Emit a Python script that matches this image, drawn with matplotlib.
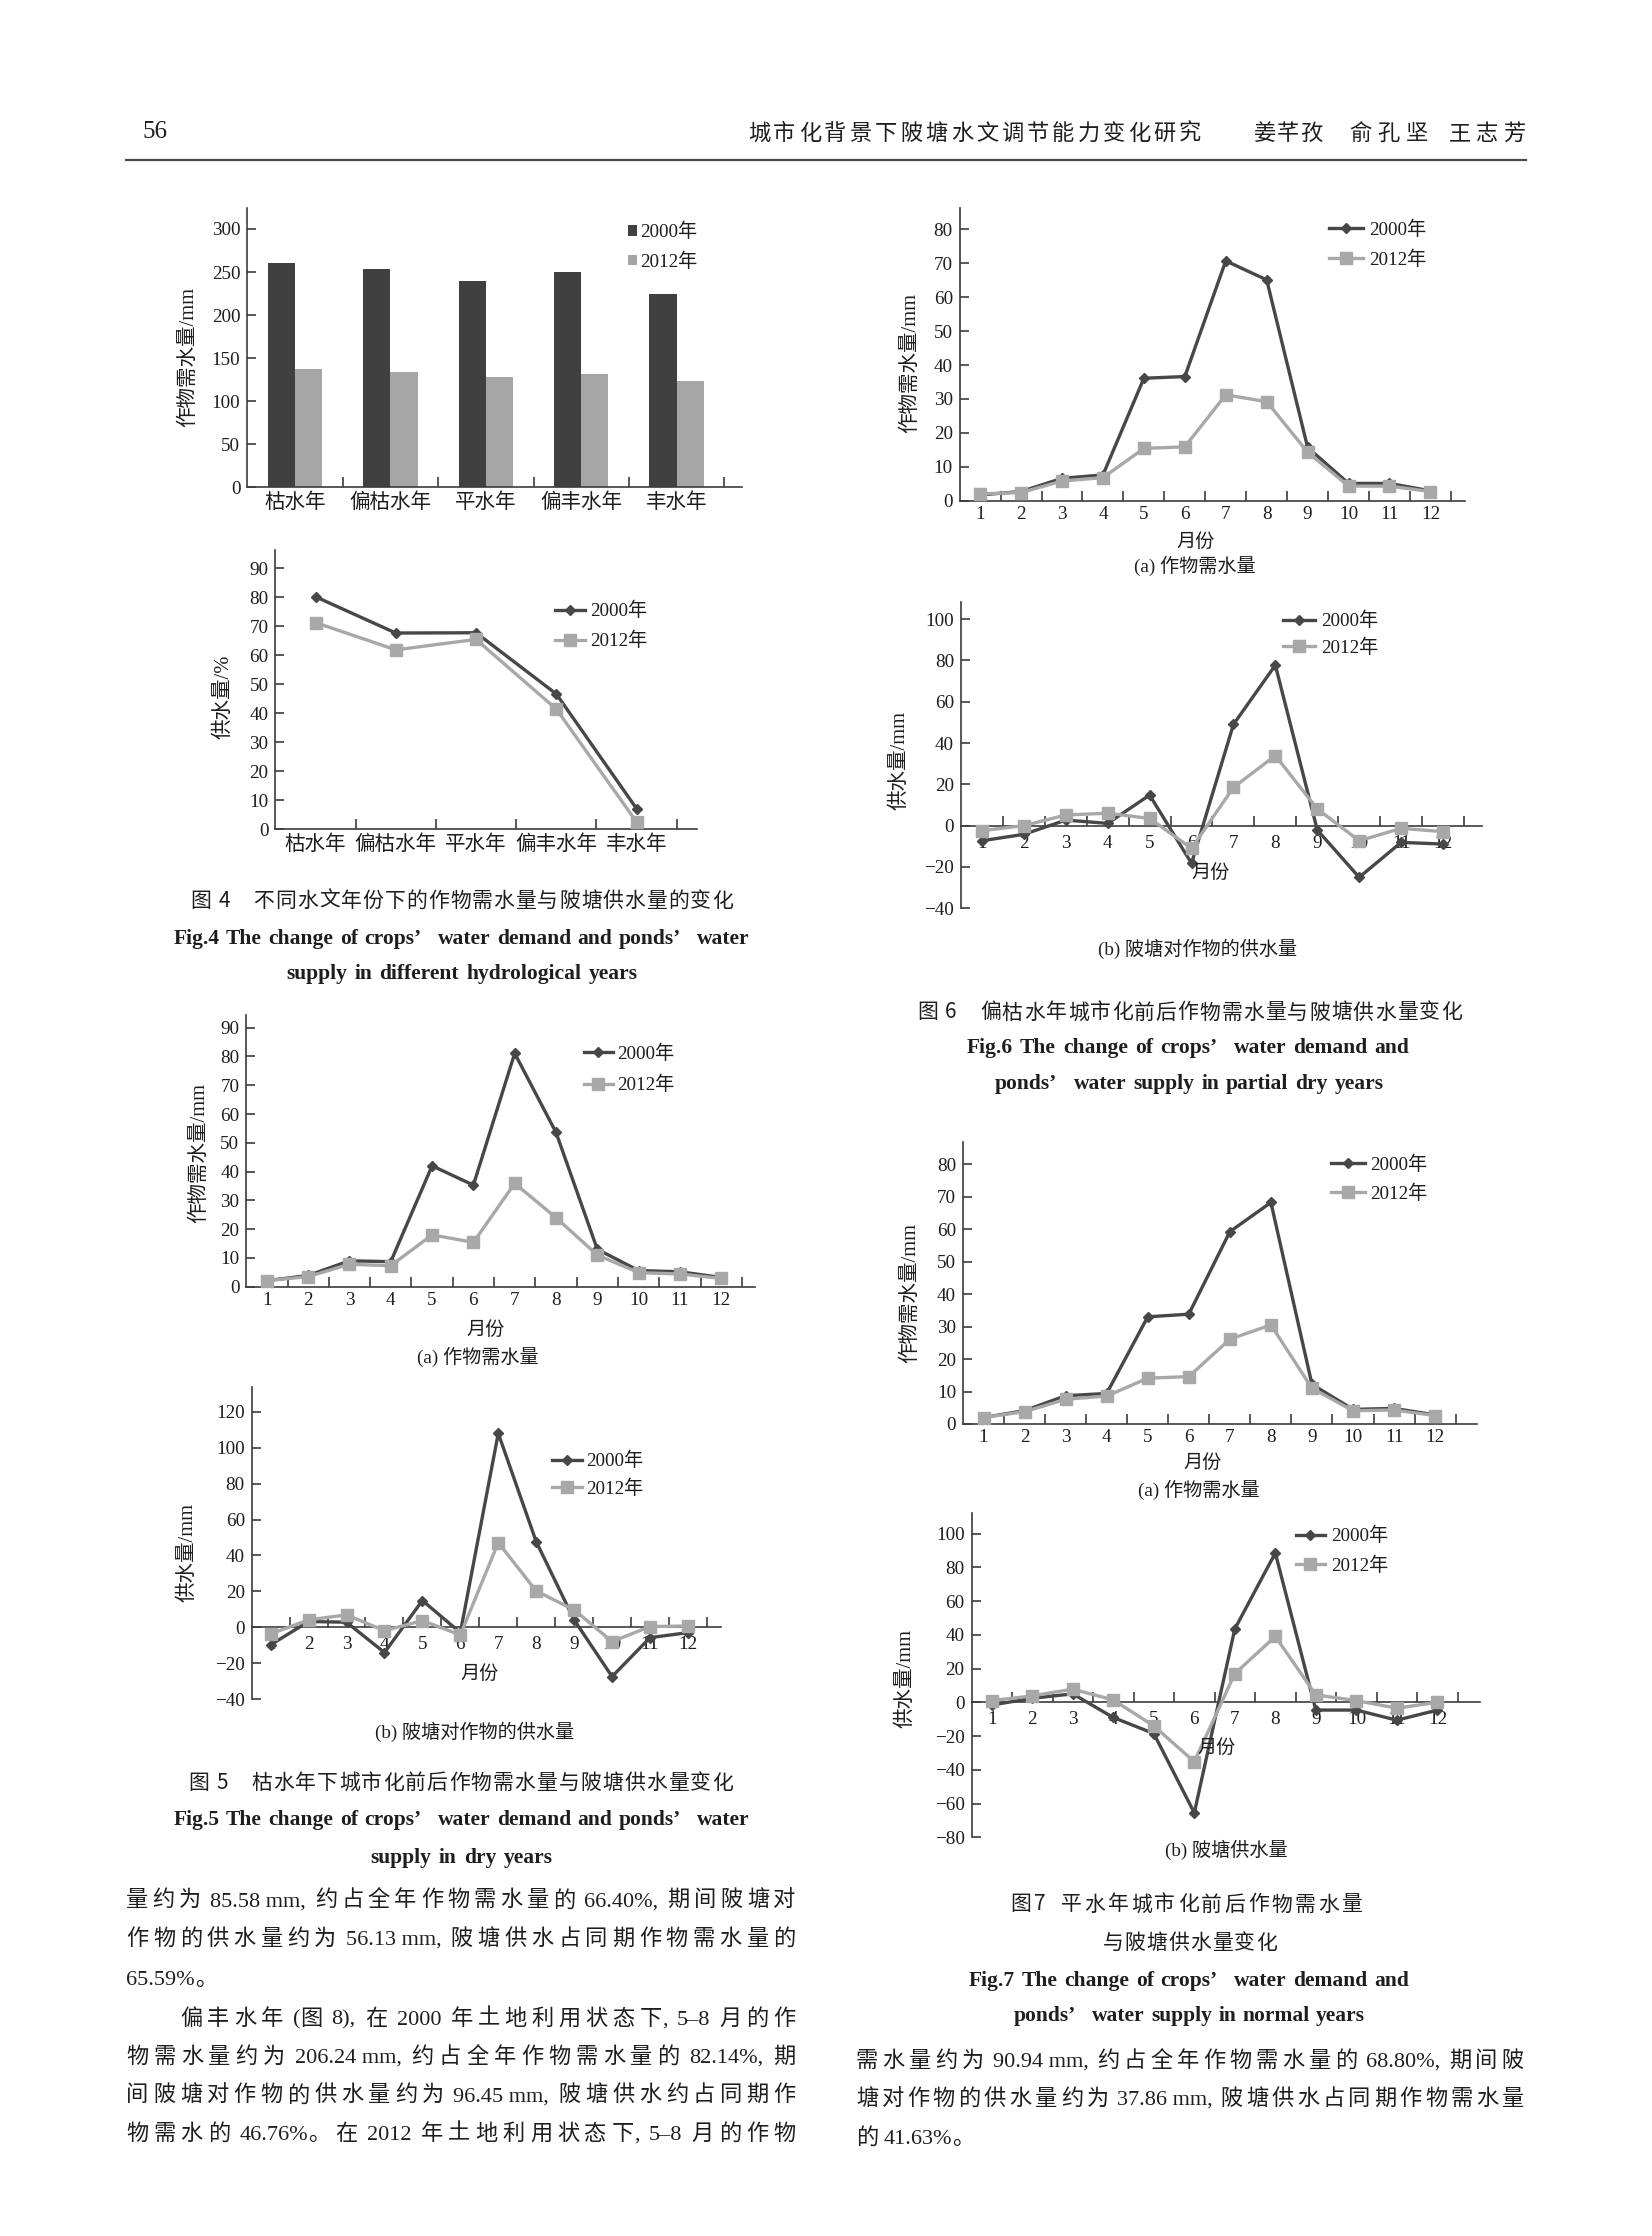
import matplotlib
matplotlib.use('Agg')
import matplotlib.pyplot as plt
from matplotlib.lines import Line2D
import numpy as np

W, H = 1652, 2236
FAM = ['Liberation Serif', 'Noto Sans CJK SC']
SANS = ['Noto Sans CJK SC', 'Liberation Serif']
plt.rcParams['font.family'] = FAM

TXT = '#1e1e1e'
AXC = '#3c3c3c'
C2000 = '#474747'
C2012 = '#a8a8a8'
BAR2000 = '#404040'
BAR2012 = '#a6a6a6'

# ---------------- data ----------------
hydro_years = ['枯水年', '偏枯水年', '平水年', '偏丰水年', '丰水年']
demand_2000 = [260, 254, 240, 250, 224]
demand_2012 = [137, 134, 128, 132, 124]
supply_pct_2000 = [80.1, 67.6, 67.7, 46.6, 7.1]
supply_pct_2012 = [71.2, 61.8, 65.4, 41.4, 2.5]

months = list(range(1, 13))
month_labels = [str(m) for m in months]
series_labels = ['2000年', '2012年']

dry_demand_2000 = [2.1, 3.9, 9.0, 8.7, 42.0, 35.3, 81.1, 53.6, 13.0, 5.6, 5.2, 3.2]
dry_demand_2012 = [2.1, 3.5, 7.8, 7.3, 18.0, 15.4, 35.9, 24.0, 11.0, 4.9, 4.4, 2.9]
dry_supply_2000 = [-9.8, 3.2, 2.8, -14.1, 14.9, -3.0, 108.1, 47.7, 4.1, -27.5, -5.8, -3.0]
dry_supply_2012 = [-3.7, 4.1, 6.9, -1.9, 3.7, -4.3, 47.2, 20.2, 9.7, -8.0, 0.4, 0.7]

pdry_demand_2000 = [1.7, 2.7, 6.6, 7.6, 36.1, 36.6, 70.7, 65.1, 15.7, 5.1, 5.1, 2.9]
pdry_demand_2012 = [2.0, 2.4, 5.8, 6.8, 15.4, 15.9, 31.2, 29.2, 14.3, 4.3, 4.3, 2.7]
pdry_supply_2000 = [-7.3, -4.2, 2.7, 1.1, 14.8, -18.2, 49.0, 77.7, -2.1, -25.0, -8.1, -8.9]
pdry_supply_2012 = [-2.4, 0.0, 5.2, 6.0, 3.5, -11.0, 18.5, 33.9, 8.1, -7.3, -1.3, -2.9]

norm_demand_2000 = [2.0, 4.1, 8.7, 9.4, 33.0, 33.8, 59.2, 68.2, 12.2, 4.5, 4.8, 2.8]
norm_demand_2012 = [2.0, 3.8, 7.6, 8.6, 14.1, 14.6, 26.1, 30.5, 11.0, 4.1, 4.3, 2.6]
norm_supply_2000 = [-1.6, 2.4, 5.0, -9.0, -18.5, -65.5, 43.5, 88.5, -4.6, -4.6, -10.6, -4.6]
norm_supply_2012 = [1.0, 3.8, 7.8, 1.4, -14.0, -35.2, 17.0, 39.0, 4.4, 1.0, -3.5, 0.0]

# ---------------- figure ----------------
fig = plt.figure(figsize=(W / 100, H / 100), dpi=100)
fig.patch.set_facecolor('white')
R = fig.canvas.get_renderer()


def fx(x):
    return x / W


def fy(y):
    return 1 - y / H


def add_axes_px(l, t, r, b):
    return fig.add_axes([l / W, 1 - b / H, (r - l) / W, (b - t) / H])


TS = 13.8


def style_axes(ax, xlim, ylim, yticks, bounds, centers, labels, zero=False, xpad=3.8):
    ax.set_xlim(*xlim)
    ax.set_ylim(*ylim)
    ax.patch.set_alpha(0)
    for s in ('top', 'right'):
        ax.spines[s].set_visible(False)
    for s in ('left', 'bottom'):
        ax.spines[s].set_color(AXC)
        ax.spines[s].set_linewidth(1.2)
    if zero:
        ax.spines['bottom'].set_position(('data', 0))
    ax.set_yticks(yticks)
    ax.set_xticks(bounds)
    ax.set_xticklabels([])
    ax.set_xticks(centers, minor=True)
    ax.set_xticklabels(labels, minor=True)
    ax.tick_params(axis='x', which='major', direction='in', length=7, width=1.2, color=AXC)
    ax.tick_params(axis='x', which='minor', length=0, pad=xpad, labelsize=TS, labelcolor=TXT)
    ax.tick_params(axis='y', direction='in', length=6.5, width=1.2, color=AXC, pad=5,
                   labelsize=TS, labelcolor=TXT)


def plot_lines(ax, x, y0, y1):
    ax.plot(x, y0, color=C2000, lw=2.4, marker='D', ms=5.5, mfc=C2000, mec=C2000,
            label=series_labels[0], zorder=3, clip_on=False)
    ax.plot(x, y1, color=C2012, lw=2.4, marker='s', ms=8, mfc=C2012, mec=C2012,
            label=series_labels[1], zorder=4, clip_on=False)


def legend_px(ax, x_start, x_end, x_text, y1, y2, patches=False, fs=TS):
    fpx = fs * 100 / 72
    h = 0.88 * fpx
    kw = dict(loc='upper left', bbox_to_anchor=(fx(x_start), fy(y1 - h / 2 + 2)),
              bbox_transform=fig.transFigure, frameon=False, borderpad=0, borderaxespad=0,
              handlelength=(x_end - x_start) / fpx, handletextpad=(x_text - x_end) / fpx,
              labelspacing=max(0.0, (y2 - y1 - h) / fpx), fontsize=fs, numpoints=1,
              labelcolor=TXT)
    if patches:
        kw['handleheight'] = (x_end - x_start) / fpx
    ax.legend(**kw)


def ylab(s, x, y, fs=14.8):
    fig.text(fx(x), fy(y), s, rotation=90, ha='center', va='center', fontsize=fs, color=TXT)


def ctext(s, x, y, fs=13.8):
    fig.text(fx(x), fy(y), s, ha='center', va='center', fontsize=fs, color=TXT)


def is_cjk(ch):
    return ord(ch) >= 0x2E80


PUNCT_AFTER = '，。）、；：%,.;:)'
PUNCT_BEFORE = '（('


def tokens_of(s, words=False):
    if words:
        return s.split()
    toks, buf = [], ''

    def flush(b):
        b = b.strip()
        if not b:
            return
        # split a leading punctuation mark so it hugs the preceding character
        if len(b) > 1 and b[0] in ',.;:)':
            toks.append(b[0])
            b = b[1:].strip()
        if b:
            toks.append(b)

    for ch in s:
        if is_cjk(ch):
            flush(buf)
            buf = ''
            toks.append(ch)
        else:
            buf += ch
    flush(buf)
    return toks


def set_line(s, x0, x1, yc, fs, family=FAM, weight='normal', justify=True, words=False):
    toks = tokens_of(s, words)
    em = fs * 100 / 72
    arts = [fig.text(0, 0, t, fontsize=fs, family=family, weight=weight, color=TXT,
                     ha='left', va='baseline') for t in toks]
    wid = [a.get_window_extent(R).width for a in arts]
    nat, flex = [], []
    for a, b in zip(toks, toks[1:]):
        if words:
            nat.append(0.7 * em if a.endswith('’') else 0.25 * em)
            flex.append(True)
        elif b[0] in PUNCT_AFTER or a[-1] in PUNCT_BEFORE:
            nat.append(0.0)
            flex.append(False)
        elif is_cjk(a[-1]) and is_cjk(b[0]):
            nat.append(0.04 * em)
            flex.append(True)
        else:
            nat.append(0.25 * em)
            flex.append(True)
    nflex = sum(flex)
    if justify and nflex > 0:
        extra = (x1 - x0 - sum(wid) - sum(nat)) / nflex
        gaps = [g + (extra if f else 0.0) for g, f in zip(nat, flex)]
    else:
        gaps = nat
    x = x0
    base = yc + 0.36 * em
    for i, (a, w) in enumerate(zip(arts, wid)):
        a.set_position((fx(x), fy(base)))
        x += w + (gaps[i] if i < len(gaps) else 0)


mb = [m + 0.5 for m in months]  # category boundaries 1.5 .. 12.5

# ---------------- Fig.4 (a) bar chart ----------------
ax = add_axes_px(247.2, 208.3, 741.6, 487.3)
xh = np.arange(len(hydro_years))
bw = 0.285
ax.bar(xh - bw / 2, demand_2000, bw, color=BAR2000, label=series_labels[0])
ax.bar(xh + bw / 2, demand_2012, bw, color=BAR2012, label=series_labels[1])
style_axes(ax, (-0.5, 4.68), (0, 324), range(0, 301, 50), [i + 0.5 for i in xh], xh,
           hydro_years, xpad=4.5)
ax.tick_params(axis='x', which='minor', labelsize=14.8)
legend_px(ax, 627.5, 637, 640, 229, 257.3, patches=True)
ylab('作物需水量/mm', 188.7, 356.7)

# ---------------- Fig.4 (b) supply % ----------------
ax = add_axes_px(275.4, 550, 696.8, 829.3)
plot_lines(ax, xh, supply_pct_2000, supply_pct_2012)
style_axes(ax, (-0.5, 4.75), (0, 96.2), range(0, 91, 10), [i + 0.5 for i in xh], xh,
           hydro_years, xpad=4.5)
ax.tick_params(axis='x', which='minor', labelsize=14.8)
legend_px(ax, 554.6, 585, 590.4, 608.3, 636.7)
ylab('供水量/%', 224, 696.7)

# ---------------- Fig.5 (a) ----------------
ax = add_axes_px(246.2, 1015, 755.1, 1286.7)
plot_lines(ax, months, dry_demand_2000, dry_demand_2012)
style_axes(ax, (0.5, 12.82), (0, 94.4), range(0, 91, 10), mb, months, month_labels)
legend_px(ax, 584, 612.7, 616.7, 1050.7, 1080.7)
ylab('作物需水量/mm', 199.5, 1153)
ctext('月份', 486, 1330)
ctext('(a) 作物需水量', 478, 1357)

# ---------------- Fig.5 (b) ----------------
ax = add_axes_px(251.7, 1386.7, 721.5, 1699)
plot_lines(ax, months, dry_supply_2000, dry_supply_2012)
style_axes(ax, (0.5, 12.885), (-40, 134.1), range(-40, 121, 20), mb, months, month_labels,
           zero=True, xpad=6.2)
legend_px(ax, 552, 582.3, 586.3, 1458.3, 1484.3)
ylab('供水量/mm', 187.7, 1553)
ctext('月份', 480, 1674)
ctext('(b) 陂塘对作物的供水量', 475, 1732)

# ---------------- Fig.6 (a) ----------------
ax = add_axes_px(959.7, 208.3, 1464.8, 500.7)
plot_lines(ax, months, pdry_demand_2000, pdry_demand_2012)
style_axes(ax, (0.5, 12.84), (0, 86.2), range(0, 81, 10), mb, months, month_labels)
legend_px(ax, 1329, 1363, 1369, 226.7, 255)
ylab('作物需水量/mm', 910.5, 363)
ctext('月份', 1196, 542)
ctext('(a) 作物需水量', 1195, 566)

# ---------------- Fig.6 (b) ----------------
ax = add_axes_px(961, 601.7, 1482, 908.3)
plot_lines(ax, months, pdry_supply_2000, pdry_supply_2012)
style_axes(ax, (0.5, 12.93), (-40, 108.4), range(-40, 101, 20), mb, months, month_labels,
           zero=True, xpad=7.0)
legend_px(ax, 1283, 1314.5, 1321, 618.3, 643.3)
ylab('供水量/mm', 900, 760)
ctext('月份', 1211, 873)
ctext('(b) 陂塘对作物的供水量', 1198, 949)

# ---------------- Fig.7 (a) ----------------
ax = add_axes_px(963, 1141.7, 1476.6, 1424)
plot_lines(ax, months, norm_demand_2000, norm_demand_2012)
style_axes(ax, (0.5, 13.01), (0, 86.9), range(0, 81, 10), mb, months, month_labels)
legend_px(ax, 1330.5, 1365, 1370, 1161.7, 1189)
ylab('作物需水量/mm', 910.5, 1293)
ctext('月份', 1203, 1463)
ctext('(a) 作物需水量', 1199, 1490)

# ---------------- Fig.7 (b) ----------------
ax = add_axes_px(971.5, 1513.3, 1479.5, 1837.3)
plot_lines(ax, months, norm_supply_2000, norm_supply_2012)
style_axes(ax, (0.5, 13.04), (-80, 112), range(-80, 101, 20), mb, months, month_labels,
           zero=True, xpad=6.2)
legend_px(ax, 1295.6, 1325, 1331.4, 1533.3, 1561)
ylab('供水量/mm', 906, 1678)
ctext('月份', 1217, 1748)
ctext('(b) 陂塘供水量', 1226, 1850)

# ---------------- page header ----------------
fig.text(fx(142), fy(132), '56', fontsize=18, family=['Liberation Serif'], color=TXT,
         ha='left', va='center')
HF = 16
set_line('城市化背景下陂塘水文调节能力变化研究', 748, 1201, 132, HF, family=SANS)
set_line('姜芊孜', 1254, 1322, 132, HF, family=SANS)
set_line('俞孔坚', 1349, 1428, 132, HF, family=SANS)
set_line('王志芳', 1449, 1525, 132, HF, family=SANS)
fig.add_artist(Line2D([fx(126), fx(1526)], [fy(160), fy(160)], transform=fig.transFigure,
                      color='#4a4a4a', lw=1.6))

# ---------------- figure captions ----------------
CAPF = 15
ENGF = 15.5
ENG = ['Liberation Serif']


def eng(s, x0, x1, y):
    set_line(s, x0, x1, y, ENGF, family=ENG, weight='bold', words=True)


set_line('图 4', 190.7, 229.7, 899.3, CAPF, family=SANS)
set_line('不同水文年份下的作物需水量与陂塘供水量的变化', 253.6, 732.8, 899.3, CAPF, family=SANS)
eng('Fig.4 The change of crops’ water demand and ponds’ water', 173.4, 750, 936)
eng('supply in different hydrological years', 286, 637.4, 971.7)

set_line('图 5', 188.5, 227.6, 1781.7, CAPF, family=SANS)
set_line('枯水年下城市化前后作物需水量与陂塘供水量变化', 251.4, 732.8, 1781.7, CAPF, family=SANS)
eng('Fig.5 The change of crops’ water demand and ponds’ water', 173.4, 750, 1817.3)
eng('supply in dry years', 370.7, 552.8, 1855)

set_line('图 6', 917, 956, 1011, CAPF, family=SANS)
set_line('偏枯水年城市化前后作物需水量与陂塘供水量变化', 980, 1461.5, 1011, CAPF, family=SANS)
eng('Fig.6 The change of crops’ water demand and', 967, 1409.4, 1045)
eng('ponds’ water supply in partial dry years', 995, 1383.4, 1081.7)

set_line('图 7', 1010, 1046, 1903, CAPF, family=SANS)
set_line('平水年城市化前后作物需水量', 1061, 1362, 1903, CAPF, family=SANS)
set_line('与陂塘供水量变化', 1103, 1277, 1941.6, CAPF, family=SANS)
eng('Fig.7 The change of crops’ water demand and', 968.6, 1409.5, 1978.7)
eng('ponds’ water supply in normal years', 1014, 1365, 2013)

# ---------------- body text ----------------
BF = 16
left_lines = [
    ('量约为 85.58 mm,约占全年作物需水量的 66.40%,期间陂塘对', 126, True),
    ('作物的供水量约为 56.13 mm,陂塘供水占同期作物需水量的', 126, True),
    ('65.59%。', 126, False),
    ('偏丰水年(图 8),在 2000 年土地利用状态下,5–8 月的作', 180, True),
    ('物需水量约为 206.24 mm,约占全年作物需水量的 82.14%,期', 126, True),
    ('间陂塘对作物的供水量约为 96.45 mm,陂塘供水约占同期作', 126, True),
    ('物需水的 46.76%。在 2012 年土地利用状态下,5–8 月的作物', 126, True),
]
left_y = [1898.3, 1936.7, 1976.7, 2016.7, 2055, 2093.3, 2131.7]
for (s, x0, j), y in zip(left_lines, left_y):
    set_line(s, x0, 795.6, y, BF, justify=j)

right_lines = [
    ('需水量约为 90.94 mm,约占全年作物需水量的 68.80%,期间陂', True),
    ('塘对作物的供水量约为 37.86 mm,陂塘供水占同期作物需水量', True),
    ('的 41.63%。', False),
]
right_y = [2058.6, 2097, 2135.6]
for (s, j), y in zip(right_lines, right_y):
    set_line(s, 856, 1524, y, BF, justify=j)

fig.savefig('out.png', dpi=100, facecolor='white')
